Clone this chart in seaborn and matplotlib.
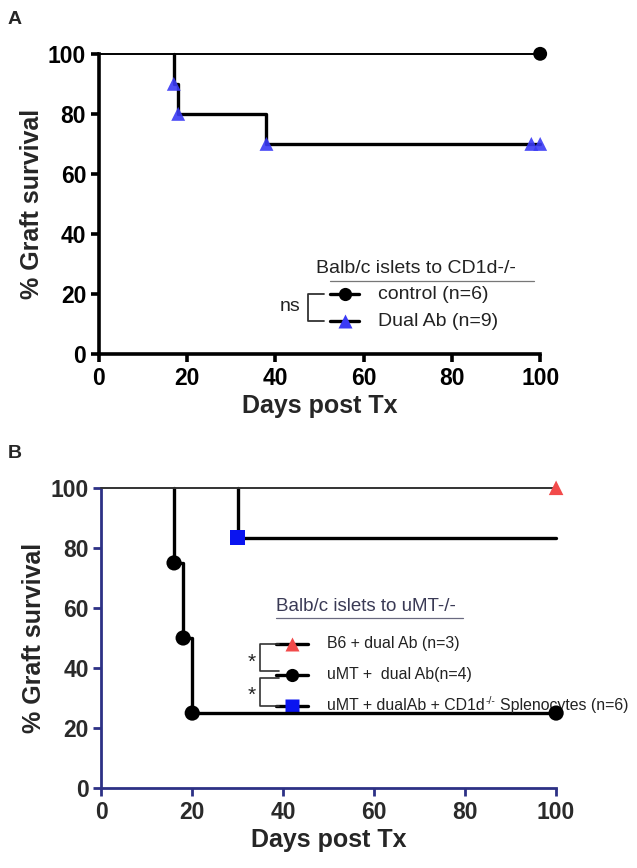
import pandas as pd
import matplotlib.pyplot as plt
import seaborn as sns

sns.set_style("white")
plt.rcParams["font.family"] = ["Liberation Sans", "DejaVu Sans"]

# --- Panel A data: Balb/c islets to CD1d-/- ---
ctrl_days = [0, 100]
ctrl_surv = [100, 100]
ctrl_mark_days = [100]
ctrl_mark_surv = [100]

dual_days = [0, 17, 18, 38, 100]
dual_surv = [100, 90, 80, 70, 70]
dual_mark_days = [17, 18, 38, 98, 100]
dual_mark_surv = [90, 80, 70, 70, 70]

# --- Panel B data: Balb/c islets to uMT-/- ---
b6_days = [0, 100]
b6_surv = [100, 100]
b6_mark_days = [100]
b6_mark_surv = [100]

umt_days = [0, 16, 18, 20, 100]
umt_surv = [100, 75, 50, 25, 25]
umt_mark_days = [16, 18, 20, 100]
umt_mark_surv = [75, 50, 25, 25]

spl_days = [0, 30, 100]
spl_surv = [100, 83.33, 83.33]
spl_mark_days = [30]
spl_mark_surv = [83.33]

ticks = [0, 20, 40, 60, 80, 100]

BLUE_TRI = "#3b3bf5"
RED_TRI = "#f24a4a"
SQ_BLUE = "#0a14f0"
NAVY = "#2d3185"


def km_curve(ax, days, surv, color, lw, skip_top=False):
    # skip_top: the shared 100% segment is drawn by the thin reference curve
    if skip_top and len(days) > 2:
        days = [days[1]] + list(days[1:])
        surv = [surv[0]] + list(surv[1:])
    df = pd.DataFrame({"day": days, "surv": surv})
    sns.lineplot(data=df, x="day", y="surv", ax=ax, drawstyle="steps-post",
                 estimator=None, sort=False, color=color, lw=lw,
                 clip_on=False, zorder=3)


def km_marks(ax, days, surv, color, marker, size, alpha=1.0):
    df = pd.DataFrame({"day": days, "surv": surv})
    sns.scatterplot(data=df, x="day", y="surv", ax=ax, color=color,
                    marker=marker, s=size, edgecolor="none", alpha=alpha,
                    clip_on=False, zorder=5)


def style_axes(ax, spine_color, tick_color, spine_w):
    ax.set_xlim(0, 100)
    ax.set_ylim(0, 100)
    ax.set_xticks(ticks)
    ax.set_yticks(ticks)
    for s in ["top", "right"]:
        ax.spines[s].set_visible(False)
    for s in ["left", "bottom"]:
        ax.spines[s].set_color(spine_color)
        ax.spines[s].set_linewidth(spine_w)
    ax.tick_params(axis="both", direction="out", length=6, width=spine_w,
                   color=spine_color, labelsize=16.5, labelcolor=tick_color,
                   pad=3, bottom=True, left=True)
    for lab in ax.get_xticklabels() + ax.get_yticklabels():
        lab.set_fontweight("bold")
    ax.set_xlabel("Days post Tx", fontsize=18, fontweight="bold", labelpad=3)
    ax.set_ylabel("% Graft survival", fontsize=18, fontweight="bold", labelpad=3)


fig = plt.figure(figsize=(6.37, 8.68), dpi=100)
axA = fig.add_axes([0.155, 0.592, 0.693, 0.346])
axB = fig.add_axes([0.159, 0.092, 0.714, 0.346])

# --- Panel A ---
km_curve(axA, ctrl_days, ctrl_surv, "black", 1.4)
km_curve(axA, dual_days, dual_surv, "black", 2.4, skip_top=True)
km_marks(axA, ctrl_mark_days, ctrl_mark_surv, "black", "o", 100)
km_marks(axA, dual_mark_days, dual_mark_surv, BLUE_TRI, "^", 100, 0.9)
style_axes(axA, "black", "black", 2.6)

tA = axA.transAxes
axA.text(0.718, 0.285, "Balb/c islets to CD1d-/-", transform=tA, ha="center",
         va="center", fontsize=14, color="#222222")
axA.plot([0.525, 0.985], [0.245, 0.245], transform=tA, color="#777777",
         lw=0.9, clip_on=False)
for y, mk, col, lab in [(0.20, "o", "black", "control (n=6)"),
                        (0.11, "^", BLUE_TRI, "Dual Ab (n=9)")]:
    axA.plot([0.525, 0.59], [y, y], transform=tA, color="black", lw=2.4)
    axA.plot([0.557], [y], transform=tA, marker=mk, color=col, ms=9.5,
             mec="none", ls="none")
    axA.text(0.633, y, lab, transform=tA, va="center", fontsize=14,
             color="#222222")
axA.plot([0.51, 0.474, 0.474, 0.51], [0.2, 0.2, 0.11, 0.11], transform=tA,
         color="#333333", lw=1.3)
axA.text(0.433, 0.157, "ns", transform=tA, ha="center", va="center",
         fontsize=14, color="#222222")

# --- Panel B ---
km_curve(axB, umt_days, umt_surv, "black", 2.4, skip_top=True)
km_curve(axB, spl_days, spl_surv, "black", 2.4, skip_top=True)
km_curve(axB, b6_days, b6_surv, "#333333", 1.4)
km_marks(axB, umt_mark_days, umt_mark_surv, "black", "o", 120)
km_marks(axB, spl_mark_days, spl_mark_surv, SQ_BLUE, "s", 120)
km_marks(axB, b6_mark_days, b6_mark_surv, RED_TRI, "^", 110)
style_axes(axB, NAVY, "#2a2a2a", 2.0)

tB = axB.transAxes
axB.text(0.582, 0.605, "Balb/c islets to uMT-/-", transform=tB, ha="center",
         va="center", fontsize=13.5, color="#3a3a55")
axB.plot([0.385, 0.795], [0.567, 0.567], transform=tB, color="#6a6a80", lw=0.9)
entries = [(0.48, "^", RED_TRI, "B6 + dual Ab (n=3)"),
           (0.378, "o", "black", "uMT +  dual Ab(n=4)"),
           (0.274, "s", SQ_BLUE, "uMT + dualAb + CD1d")]
for y, mk, col, lab in entries:
    axB.plot([0.385, 0.455], [y, y], transform=tB, color="black", lw=2.4)
    axB.plot([0.42], [y], transform=tB, marker=mk, color=col, ms=9.5,
             mec="none", ls="none")
    t = axB.text(0.497, y, lab, transform=tB, va="center", fontsize=11.4,
                 color="#222222")
# superscript and tail of the last entry
sup = axB.annotate("-/-", xy=(1, 0.8), xycoords=t, va="center", ha="left",
                   fontsize=7.5, color="#222222")
axB.annotate("Splenocytes (n=6)", xy=(1, 0.5), xycoords=t, xytext=(10.5, 0),
             textcoords="offset points", va="center", ha="left",
             fontsize=11.4, color="#222222")

axB.plot([0.39, 0.348, 0.348, 0.39], [0.48, 0.48, 0.39, 0.39], transform=tB,
         color="#333333", lw=1.2)
axB.plot([0.39, 0.348, 0.348, 0.39], [0.368, 0.368, 0.274, 0.274],
         transform=tB, color="#333333", lw=1.2)
axB.text(0.33, 0.42, "*", transform=tB, ha="center", va="center",
         fontsize=15, color="#222222")
axB.text(0.33, 0.31, "*", transform=tB, ha="center", va="center",
         fontsize=15, color="#222222")

fig.text(0.012, 0.977, "A", fontsize=14, fontweight="bold", va="center")
fig.text(0.012, 0.478, "B", fontsize=14, fontweight="bold", va="center")

fig.savefig("out.png", dpi=100)
